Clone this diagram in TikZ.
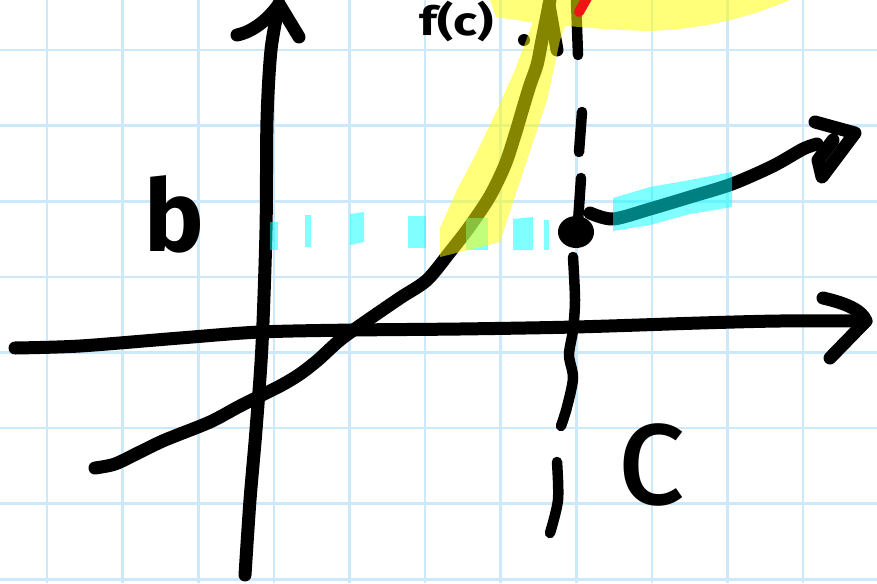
\documentclass[tikz,border=0pt]{standalone}
\usepackage{fontspec}
\setmainfont{Fira Sans}
\usetikzlibrary{shapes.geometric}
\begin{document}
\begin{tikzpicture}[x=1pt,y=-1pt,
  gridline/.style={draw=gridblue, line width=2.6pt},
  ink/.style={draw=black, line width=13pt, line cap=round, line join=round},
  thinink/.style={draw=black, line width=10.5pt, line cap=round, line join=round},
  cyanhl/.style={fill=hlcyan, fill opacity=0.5},
  yellowhl/.style={fill=hlyellow, fill opacity=0.52},
  label/.style={inner sep=0pt, text=black}]
\definecolor{gridblue}{HTML}{CDE9F9}
\definecolor{hlcyan}{RGB}{0,255,255}
\definecolor{hlyellow}{RGB}{255,255,0}
\definecolor{penred}{RGB}{240,20,20}
\useasboundingbox (0,0) rectangle (877,583);
\clip (0,0) rectangle (877,583);
\fill[white] (0,0) rectangle (877,583);
% grid
\foreach \i in {0,...,10} \draw[gridline] ({47+75.6*\i},0) -- ({47+75.6*\i},583);
\foreach \j in {0,...,7} \draw[gridline] (0,{50+75.6*\j}) -- (877,{50+75.6*\j});
% x axis
\coordinate (xs) at (15,348);
\coordinate (xt) at (866,321);
\draw[ink] plot[smooth] coordinates {(xs) (80,346) (180,338) (260,332) (355,330) (460,329) (575,327) (700,323) (780,321) (xt)};
\draw[ink] (823,298) .. controls (845,303) and (862,310) .. (xt) -- (830,358);
% y axis
\coordinate (ys) at (245,575);
\coordinate (yt) at (279,4);
\draw[ink] plot[smooth] coordinates {(ys) (250,500) (256,430) (262,345) (266,230) (267,120) (271,50) (yt)};
\draw[ink] (237,35) .. controls (252,32) and (268,20) .. (yt) -- (299,37);
% function curve
\draw[ink] plot[smooth] coordinates {(95,468) (115,464) (140,452) (165,440) (210,422) (240,406) (280,386) (300,374) (318,360) (340,340) (365,322) (400,298) (427,280) (450,252) (470,226) (490,196) (505,165) (515,135) (523,108) (530,85) (537,65) (542,40) (547,15) (550,0)};
\draw[ink] (549,5) -- (557,50);
\fill[black] (524,40) circle (6);
% dashed vertical at c
\draw[thinink] (576,0) -- (578,55);
\draw[thinink] (582,112) -- (579,152);
\draw[thinink] (581,178) -- (578,222);
\draw[thinink] plot[smooth] coordinates {(573,257) (575,300) (573,330) (569,355) (573,378) (567,407) (561,426)};
\draw[thinink] plot[smooth] coordinates {(557,462) (558,500) (550,533)};
% point
\node[label, fill=black, ellipse, minimum width=36pt, minimum height=32pt, draw=none] (pt) at (576,232) {};
% right branch
\draw[ink] plot[smooth] coordinates {(590,213) (613,219) (650,209) (690,197) (732,184) (773,166) (803,149) (817,144)};
\draw[ink] (815,122) -- (855,133) -- (822,177) -- (818,160) -- (833,140);
% cyan highlight on right branch
\fill[cyanhl] (613,198) -- (650,187) -- (690,180) -- (732,172) -- (732,207) -- (690,214) -- (650,225) -- (613,231) -- cycle;
% cyan dotted line at b
\fill[cyanhl] (270,222) rectangle (278,250);
\fill[cyanhl] (305,215) rectangle (311,247);
\fill[cyanhl] (350,214) -- (364,212) -- (364,242) -- (350,245) -- cycle;
\fill[cyanhl] (408,216) rectangle (426,248);
\fill[cyanhl] (466,218) rectangle (488,250);
\fill[cyanhl] (513,219) -- (533,217) -- (533,250) -- (513,250) -- cycle;
\fill[cyanhl] (544,220) rectangle (549,250);
% yellow highlights
\fill[yellowhl] (440,257) -- (440,228) -- (457,190) -- (478,150) -- (497,110) -- (515,70) -- (530,30) -- (540,0) -- (575,0) -- (560,40) -- (547,100) -- (517,190) -- (500,242) -- cycle
  (490,0) -- (790,0) .. controls (760,12) and (720,28) .. (650,31) .. controls (600,30) and (540,24) .. (496,17) -- cycle;
% red mark
\draw[line width=10pt, penred, line cap=round] (587,-2) -- (579,12);
% labels
\node[label, font=\bfseries\fontsize{100}{100}\selectfont] (lb) at (174,214) {b};
\node[label, font=\fontsize{150}{150}\selectfont] (lc) at (651,465) {c};
\node[label, anchor=north, xscale=1.25, font=\bfseries\fontsize{40}{40}\selectfont] (lf) at (457,1) {f(c)};
\end{tikzpicture}
\end{document}
